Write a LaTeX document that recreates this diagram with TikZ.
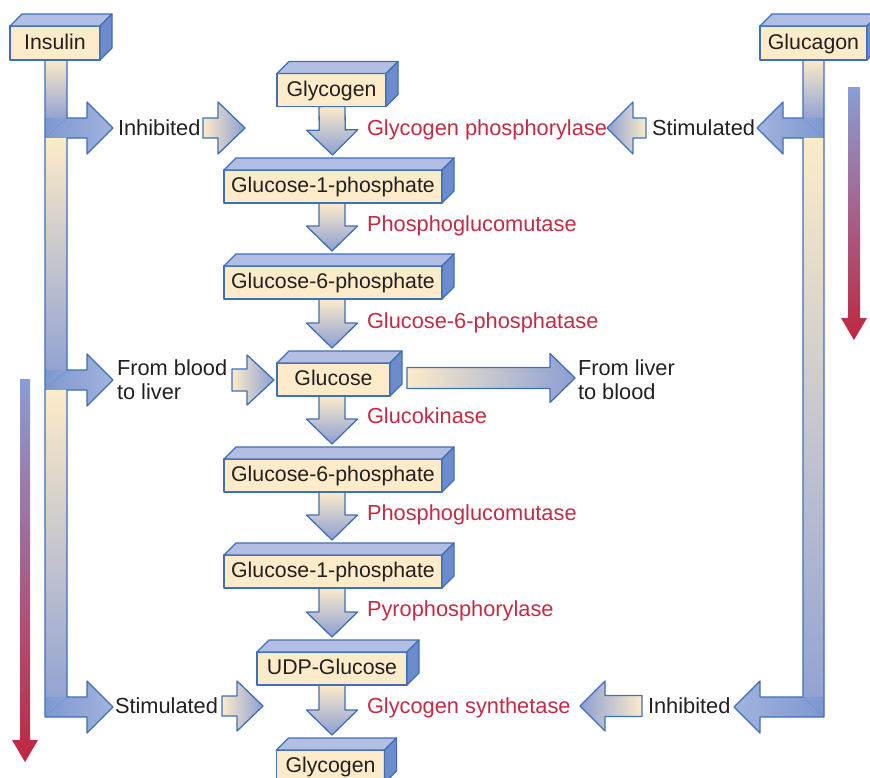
\documentclass[tikz,border=0pt]{standalone}
\usepackage{fontspec}
\setmainfont{Liberation Sans}
\usetikzlibrary{calc,backgrounds}
\definecolor{beige}{HTML}{FDEBC9}
\definecolor{boxtop}{HTML}{B2BEE4}
\definecolor{boxside}{HTML}{6C8CCB}
\definecolor{outl}{HTML}{3F6FB6}
\definecolor{armdark}{HTML}{7E98D0}
\definecolor{armlight}{HTML}{A2B3DE}
\definecolor{tipblue}{HTML}{8C9FD3}
\definecolor{stemblue}{HTML}{93A3D2}
\definecolor{enz}{HTML}{C22B43}
\definecolor{txt}{HTML}{231F20}
\definecolor{barblue}{HTML}{8A9DD6}
\definecolor{barred}{HTML}{C0263F}
\newcommand\dfont{\fontsize{21.3}{24}\selectfont}
\newcommand\lfont{\fontsize{21.8}{24}\selectfont}
\newcommand\fatarrow[6]{%
  \coordinate (fas) at (#2);
  \coordinate (fat) at (#3);
  \coordinate (fab) at ($(fat)!#6!(fas)$);
  \path[#1] ($(fas)!#4!90:(fat)$) -- ($(fab)!#4!90:(fat)$) -- ($(fab)!#5!90:(fat)$) -- (fat) -- ($(fab)!#5!-90:(fat)$) -- ($(fab)!#4!-90:(fat)$) -- ($(fas)!#4!-90:(fat)$) -- cycle;}
\newcommand\cubefaces[1]{%
  \path[faceline, fill=boxtop] (#1.north west) -- ++(12,-12) -- ($(#1.north east)+(12,-12)$) -- (#1.north east) -- cycle;
  \path[faceline, fill=boxside] (#1.north east) -- ++(12,-12) -- ($(#1.south east)+(12,-12)$) -- (#1.south east) -- cycle;}
\tikzset{
  faceline/.style={draw=outl, line width=1.3pt, line join=round},
  box/.style={faceline, fill=beige, inner sep=0pt, outer sep=0pt, minimum height=33pt, text height=15.3pt, text depth=3pt, font=\dfont, text=txt},
  lbl/.style={inner sep=0pt, outer sep=0pt, anchor=west, font=\lfont, text=txt, text height=15.5pt, text depth=0pt},
  enzlbl/.style={lbl, text=enz},
  twoline/.style={inner sep=0pt, outer sep=0pt, anchor=west, font=\lfont, text=txt, align=left},
  downarr/.style={faceline, top color=beige, bottom color=tipblue},
  rightarr/.style={faceline, left color=beige, right color=tipblue},
  leftarr/.style={faceline, left color=tipblue, right color=beige},
  stemv/.style={top color=beige, bottom color=stemblue},
  stemr/.style={left color=armdark, right color=armlight},
  steml/.style={left color=armlight, right color=armdark},
  diag/.style={draw=armdark!80!outl, line width=0.4pt},
  bar/.style={top color=barblue, bottom color=barred}
}
\begin{document}
\begin{tikzpicture}[x=1pt,y=-1pt]
\useasboundingbox (0,0) rectangle (870,777);
\clip (0,0) rectangle (870,777);

% ---------- gradient bars ----------
\path[bar] (20,379) -- (30,379) -- (30,740) -- (38,740) -- (25,762) -- (12,740) -- (20,740) -- cycle;
\path[bar] (848,87) -- (860,87) -- (860,318) -- (867,318) -- (854,340) -- (841,318) -- (848,318) -- cycle;

% ---------- insulin stem ----------
\path[stemv] (45,59) rectangle (67,118);
\path[stemr] (45,118) -- (87,118) -- (87,102) -- (113,128) -- (87,154) -- (87,138) -- (45,138) -- cycle;
\path[stemv] (45,138) rectangle (67,370);
\path[stemr] (45,370) -- (87,370) -- (87,354) -- (113,380) -- (87,406) -- (87,390) -- (45,390) -- cycle;
\path[stemv] (45,390) rectangle (67,697);
\path[stemr] (45,697) -- (87,697) -- (87,681) -- (113,707) -- (87,733) -- (87,717) -- (45,717) -- cycle;
\draw[diag] (45,138) -- (67,118) (45,390) -- (67,370) (45,717) -- (67,697);
\draw[faceline] (45,59) -- (45,717) -- (87,717) -- (87,733) -- (113,707) -- (87,681) -- (87,697) -- (67,697) -- (67,390) -- (87,390) -- (87,406) -- (113,380) -- (87,354) -- (87,370) -- (67,370) -- (67,138) -- (87,138) -- (87,154) -- (113,128) -- (87,102) -- (87,118) -- (67,118) -- (67,59);

% ---------- glucagon stem ----------
\path[stemv] (803,59) rectangle (824,118);
\path[steml] (824,118) -- (783,118) -- (783,102) -- (757,128) -- (783,154) -- (783,138) -- (824,138) -- cycle;
\path[stemv] (803,138) rectangle (824,697);
\path[steml] (824,697) -- (760,697) -- (760,681) -- (734,707) -- (760,733) -- (760,717) -- (824,717) -- cycle;
\draw[diag] (824,138) -- (803,118) (824,717) -- (803,697);
\draw[faceline] (824,59) -- (824,717) -- (760,717) -- (760,733) -- (734,707) -- (760,681) -- (760,697) -- (803,697) -- (803,138) -- (783,138) -- (783,154) -- (757,128) -- (783,102) -- (783,118) -- (803,118) -- (803,59);

% ---------- boxes ----------
\path (55,43) node[box, minimum width=90pt, minimum height=34pt] (ins) {Insulin};
\path (813.5,43) node[box, minimum width=107pt, minimum height=34pt] (glg) {Glucagon};
\path (331.5,90) node[box, minimum width=109pt] (gly1) {Glycogen};
\path (333,186.5) node[box, minimum width=218pt] (gip1) {Glucose-1-phosphate};
\path (333,282.5) node[box, minimum width=218pt] (gsp1) {Glucose-6-phosphate};
\path (333.5,379.5) node[box, minimum width=113pt] (glc) {Glucose};
\path (333,475.5) node[box, minimum width=218pt] (gsp2) {Glucose-6-phosphate};
\path (333,571.5) node[box, minimum width=218pt] (gip2) {Glucose-1-phosphate};
\path (332,668.5) node[box, minimum width=150pt] (udp) {UDP-Glucose};
\path (330.5,766.5) node[box, minimum width=108pt] (gly2) {Glycogen};
\cubefaces{ins}\cubefaces{glg}\cubefaces{gly1}\cubefaces{gip1}\cubefaces{gsp1}
\cubefaces{glc}\cubefaces{gsp2}\cubefaces{gip2}\cubefaces{udp}\cubefaces{gly2}

% ---------- down arrows (under the boxes) ----------
\begin{pgfonlayer}{background}
\fatarrow{downarr}{$(gly1.south)+(0.5,0)$}{$(gip1.north)+(-0.5,-15)$}{13pt}{25.5pt}{25pt}
\fatarrow{downarr}{$(gip1.south)+(-1,0)$}{$(gsp1.north)+(-1,-15)$}{13pt}{25.5pt}{25pt}
\fatarrow{downarr}{$(gsp1.south)+(-1,0)$}{$(glc.north)+(-1.5,-15)$}{13pt}{25.5pt}{25pt}
\fatarrow{downarr}{$(glc.south)+(-1.5,0)$}{$(gsp2.north)+(-1,-15)$}{13pt}{25.5pt}{25pt}
\fatarrow{downarr}{$(gsp2.south)+(-1,0)$}{$(gip2.north)+(-1,-15)$}{13pt}{25.5pt}{25pt}
\fatarrow{downarr}{$(gip2.south)+(-1,0)$}{$(udp.north)+(0,-15)$}{13pt}{25.5pt}{25pt}
\fatarrow{downarr}{$(udp.south)$}{$(gly2.north)+(1.5,-15)$}{13pt}{25.5pt}{25pt}
\end{pgfonlayer}

% ---------- labels ----------
\node[lbl] (inh1) at (118,128) {Inhibited};
\node[lbl] (stim1) at (652,128) {Stimulated};
\node[twoline] (fbl) at (117,380) {From blood\\to liver};
\node[twoline] (flb) at (578,380) {From liver\\to blood};
\node[lbl] (stim2) at (115,706) {Stimulated};
\node[lbl] (inh2) at (648,706) {Inhibited};

\node[enzlbl] (e1) at (367,128) {Glycogen phosphorylase};
\node[enzlbl] (e2) at (367,224) {Phosphoglucomutase};
\node[enzlbl] (e3) at (367,321) {Glucose-6-phosphatase};
\node[enzlbl] (e4) at (367,416) {Glucokinase};
\node[enzlbl] (e5) at (367,513) {Phosphoglucomutase};
\node[enzlbl] (e6) at (367,609) {Pyrophosphorylase};
\node[enzlbl] (e7) at (367,706) {Glycogen synthetase};

% ---------- small horizontal arrows ----------
\coordinate (s1a) at (203,128); \coordinate (s1b) at (245,128);
\coordinate (s2a) at (646,128); \coordinate (s2b) at (607,128);
\coordinate (s3a) at (232,380); \coordinate (s3b) at (274,380);
\coordinate (s4a) at (222,706); \coordinate (s4b) at (263,706);
\coordinate (s5a) at (642,706); \coordinate (s5b) at (580,706);
\coordinate (bga) at (407,378); \coordinate (bgb) at (575,378);
\fatarrow{rightarr}{s1a}{s1b}{10pt}{26pt}{27pt}
\fatarrow{leftarr}{s2a}{s2b}{10pt}{26pt}{26pt}
\fatarrow{rightarr}{s3a}{s3b}{11pt}{25pt}{27pt}
\fatarrow{rightarr}{s4a}{s4b}{10pt}{25pt}{26pt}
\fatarrow{leftarr}{s5a}{s5b}{10.5pt}{25pt}{25pt}
\fatarrow{rightarr}{bga}{bgb}{10.5pt}{24.5pt}{25pt}
\end{tikzpicture}
\end{document}
